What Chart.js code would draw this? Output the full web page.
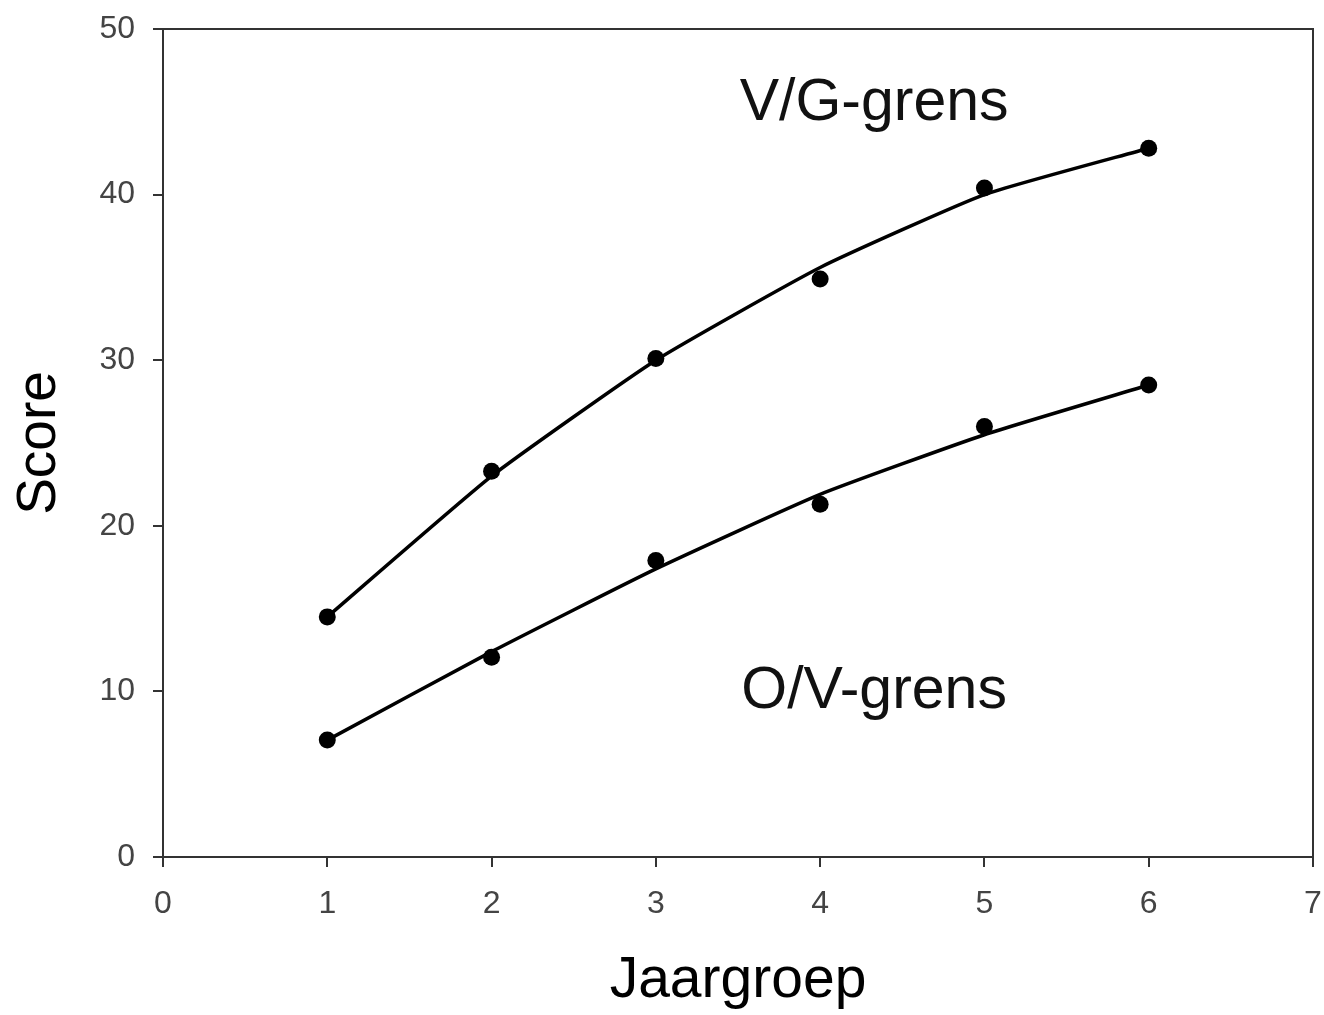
<!DOCTYPE html>
<html>
<head>
<meta charset="utf-8">
<script src="https://cdn.jsdelivr.net/npm/chart.js@4.4.0/dist/chart.umd.min.js"></script>
<style>
  html, body { margin: 0; padding: 0; background: #fff; }
</style>
</head>
<body>
<canvas id="chart" width="1324" height="1015"></canvas>
<script>
// jaargroep (x) values
const jaargroep = [1, 2, 3, 4, 5, 6];
// measured scores
const vgScores = [14.5, 23.3, 30.1, 34.9, 40.4, 42.8];
const ovScores = [7.06, 12.06, 17.9, 21.3, 26.0, 28.5];
// fitted curves
const vgFit = [14.5, 23.0, 30.0, 35.6, 40.0, 42.8];
const ovFit = [7.06, 12.4, 17.4, 21.9, 25.5, 28.5];
// text labels in the plot
const labelTexts = ['V/G-grens', 'O/V-grens'];
const labelX = [3.51, 3.52];
const labelY = [44.5, 9.0];

function toPoints(xs, ys) {
    let pts = [];
    for (let i = 0; i < xs.length; i++) {
        pts.push({ x: xs[i], y: ys[i] });
    }
    return pts;
}

const axisColor = '#333';
const tickFont = { family: '"Liberation Sans", Arial, sans-serif', size: 32 };

// draws the top and right edge of the plot box
const boxPlugin = {
    id: 'box',
    afterDraw(chart) {
        const ctx = chart.ctx;
        const a = chart.chartArea;
        ctx.save();
        ctx.strokeStyle = axisColor;
        ctx.lineWidth = 2;
        ctx.beginPath();
        ctx.moveTo(a.left, a.top);
        ctx.lineTo(a.right, a.top);
        ctx.lineTo(a.right, a.bottom);
        ctx.stroke();
        ctx.restore();
    }
};

// writes the curve names in data coordinates
const labelPlugin = {
    id: 'curveLabels',
    afterDraw(chart) {
        const ctx = chart.ctx;
        const xs = chart.scales.x;
        const ys = chart.scales.y;
        ctx.save();
        ctx.fillStyle = '#111';
        ctx.font = '59px "Liberation Sans", Arial, sans-serif';
        ctx.textAlign = 'left';
        ctx.textBaseline = 'alphabetic';
        for (let i = 0; i < labelTexts.length; i++) {
            ctx.fillText(labelTexts[i], xs.getPixelForValue(labelX[i]), ys.getPixelForValue(labelY[i]));
        }
        ctx.restore();
    }
};

new Chart(document.getElementById('chart'), {
    type: 'scatter',
    data: {
        datasets: [
            {
                label: 'V/G fit',
                data: toPoints(jaargroep, vgFit),
                showLine: true,
                borderColor: '#000',
                borderWidth: 3.5,
                pointRadius: 0,
                tension: 0.15
            },
            {
                label: 'O/V fit',
                data: toPoints(jaargroep, ovFit),
                showLine: true,
                borderColor: '#000',
                borderWidth: 3.5,
                pointRadius: 0,
                tension: 0.15
            },
            {
                label: 'V/G-grens',
                data: toPoints(jaargroep, vgScores),
                backgroundColor: '#000',
                borderColor: '#000',
                pointRadius: 8.5,
                borderWidth: 0
            },
            {
                label: 'O/V-grens',
                data: toPoints(jaargroep, ovScores),
                backgroundColor: '#000',
                borderColor: '#000',
                pointRadius: 8.5,
                borderWidth: 0
            }
        ]
    },
    options: {
        responsive: false,
        animation: false,
        layout: {
            padding: { top: 29, right: 11, left: 0, bottom: 0 }
        },
        plugins: {
            legend: { display: false },
            tooltip: { enabled: false }
        },
        scales: {
            x: {
                type: 'linear',
                min: 0,
                max: 7,
                afterFit: (scale) => {
                    scale.height = 158;
                    scale.paddingLeft = 0;
                    scale.paddingRight = 0;
                },
                ticks: { stepSize: 1, color: '#444', font: tickFont, padding: 18 },
                grid: { drawOnChartArea: false, drawTicks: true, tickLength: 10, color: axisColor, lineWidth: 2 },
                border: { display: true, color: axisColor, width: 2 },
                title: {
                    display: true, text: 'Jaargroep', color: '#000',
                    font: { family: '"Liberation Sans", Arial, sans-serif', size: 57 },
                    padding: { top: 0, bottom: 0 }
                }
            },
            y: {
                min: 0,
                max: 50,
                afterFit: (scale) => {
                    scale.width = 163;
                    scale.paddingTop = 0;
                    scale.paddingBottom = 0;
                },
                ticks: { stepSize: 10, color: '#444', font: tickFont, padding: 18 },
                grid: { drawOnChartArea: false, drawTicks: true, tickLength: 10, color: axisColor, lineWidth: 2 },
                border: { display: true, color: axisColor, width: 2 },
                title: {
                    display: true, text: 'Score', color: '#000',
                    font: { family: '"Liberation Sans", Arial, sans-serif', size: 55 },
                    padding: { top: 7, bottom: 0 }
                }
            }
        }
    },
    plugins: [boxPlugin, labelPlugin]
});
</script>
</body>
</html>
